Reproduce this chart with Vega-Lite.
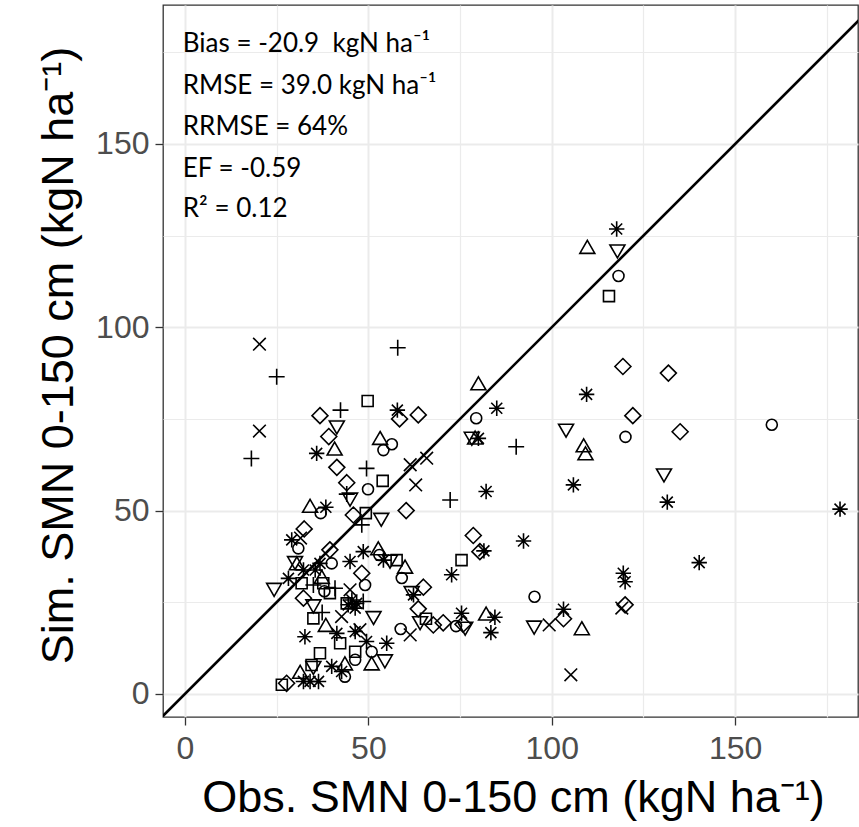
{
  "$schema": "https://vega.github.io/schema/vega-lite/v6.json",
  "width": 695,
  "height": 712,
  "autosize": {"type": "none"},
  "padding": {"left": 163, "top": 5, "right": 1, "bottom": 110},
  "background": "white",
  "config": {
    "view": {"stroke": "#333333", "strokeWidth": 1.3},
    "axis": {
      "domain": false,
      "grid": true,
      "gridColor": "#EBEBEB",
      "labelExpr": "datum.value % 50 === 0 ? datum.label : ''",
      "gridWidth": {"condition": {"test": "datum.value % 50 === 0", "value": 2}, "value": 1.2},
      "tickOpacity": {"condition": {"test": "datum.value % 50 === 0", "value": 1}, "value": 0},
      "tickColor": "#333333",
      "tickWidth": 1.3,
      "tickSize": 8,
      "labelFont": "Liberation Sans",
      "labelFontSize": 32,
      "labelColor": "#4D4D4D",
      "labelOverlap": false,
      "labelFlush": false,
      "titleFont": "Liberation Sans",
      "titleFontSize": 45,
      "titleFontWeight": "normal",
      "titleColor": "black",
      "titleBaseline": "alphabetic",
      "titleAlign": "center"
    }
  },
  "datasets": {
    "points": [
      {"x": 118.2, "y": 114.0, "s": "circle"},
      {"x": 120.1, "y": 70.1, "s": "circle"},
      {"x": 160.0, "y": 73.4, "s": "circle"},
      {"x": 79.4, "y": 75.2, "s": "circle"},
      {"x": 56.4, "y": 68.1, "s": "circle"},
      {"x": 54.1, "y": 66.5, "s": "circle"},
      {"x": 49.9, "y": 55.8, "s": "circle"},
      {"x": 37.0, "y": 49.3, "s": "circle"},
      {"x": 30.9, "y": 39.7, "s": "circle"},
      {"x": 53.0, "y": 37.9, "s": "circle"},
      {"x": 40.0, "y": 35.6, "s": "circle"},
      {"x": 59.1, "y": 31.6, "s": "circle"},
      {"x": 49.1, "y": 29.7, "s": "circle"},
      {"x": 38.0, "y": 28.0, "s": "circle"},
      {"x": 95.3, "y": 26.5, "s": "circle"},
      {"x": 73.9, "y": 18.5, "s": "circle"},
      {"x": 58.8, "y": 17.7, "s": "circle"},
      {"x": 50.9, "y": 11.5, "s": "circle"},
      {"x": 46.4, "y": 9.3, "s": "circle"},
      {"x": 43.6, "y": 4.7, "s": "circle"},

      {"x": 109.7, "y": 121.5, "s": "triangle"},
      {"x": 80.0, "y": 84.3, "s": "triangle"},
      {"x": 79.1, "y": 69.5, "s": "triangle"},
      {"x": 108.7, "y": 67.4, "s": "triangle"},
      {"x": 109.2, "y": 65.2, "s": "triangle"},
      {"x": 53.2, "y": 69.4, "s": "triangle"},
      {"x": 40.8, "y": 66.5, "s": "triangle"},
      {"x": 34.1, "y": 50.9, "s": "triangle"},
      {"x": 52.7, "y": 39.3, "s": "triangle"},
      {"x": 30.5, "y": 35.2, "s": "triangle"},
      {"x": 37.3, "y": 31.5, "s": "triangle"},
      {"x": 60.0, "y": 34.3, "s": "triangle"},
      {"x": 82.1, "y": 21.5, "s": "triangle"},
      {"x": 108.2, "y": 17.5, "s": "triangle"},
      {"x": 38.4, "y": 18.4, "s": "triangle"},
      {"x": 50.9, "y": 7.9, "s": "triangle"},
      {"x": 43.6, "y": 7.9, "s": "triangle"},
      {"x": 31.4, "y": 5.6, "s": "triangle"},

      {"x": 117.9, "y": 121.1, "s": "tridown"},
      {"x": 78.2, "y": 70.0, "s": "tridown"},
      {"x": 103.9, "y": 72.2, "s": "tridown"},
      {"x": 130.6, "y": 60.0, "s": "tridown"},
      {"x": 41.4, "y": 73.1, "s": "tridown"},
      {"x": 45.0, "y": 53.4, "s": "tridown"},
      {"x": 53.5, "y": 47.9, "s": "tridown"},
      {"x": 30.0, "y": 36.1, "s": "tridown"},
      {"x": 55.9, "y": 36.5, "s": "tridown"},
      {"x": 24.3, "y": 28.8, "s": "tridown"},
      {"x": 61.8, "y": 27.9, "s": "tridown"},
      {"x": 35.0, "y": 24.3, "s": "tridown"},
      {"x": 51.4, "y": 21.1, "s": "tridown"},
      {"x": 64.1, "y": 19.7, "s": "tridown"},
      {"x": 95.2, "y": 18.5, "s": "tridown"},
      {"x": 76.4, "y": 18.2, "s": "tridown"},
      {"x": 35.0, "y": 7.5, "s": "tridown"},
      {"x": 54.5, "y": 9.3, "s": "tridown"},

      {"x": 115.6, "y": 108.5, "s": "square"},
      {"x": 49.8, "y": 79.9, "s": "square"},
      {"x": 53.9, "y": 58.1, "s": "square"},
      {"x": 49.3, "y": 49.3, "s": "square"},
      {"x": 57.7, "y": 36.5, "s": "square"},
      {"x": 75.4, "y": 36.5, "s": "square"},
      {"x": 31.8, "y": 30.2, "s": "square"},
      {"x": 37.7, "y": 30.2, "s": "square"},
      {"x": 39.5, "y": 27.5, "s": "square"},
      {"x": 44.1, "y": 24.7, "s": "square"},
      {"x": 65.7, "y": 20.5, "s": "square"},
      {"x": 35.0, "y": 20.6, "s": "square"},
      {"x": 42.3, "y": 13.8, "s": "square"},
      {"x": 46.4, "y": 11.5, "s": "square"},
      {"x": 36.8, "y": 11.1, "s": "square"},
      {"x": 34.5, "y": 7.9, "s": "square"},
      {"x": 26.4, "y": 2.5, "s": "square"},

      {"x": 119.4, "y": 89.3, "s": "diamond"},
      {"x": 131.8, "y": 87.5, "s": "diamond"},
      {"x": 122.1, "y": 75.9, "s": "diamond"},
      {"x": 135.0, "y": 71.5, "s": "diamond"},
      {"x": 63.6, "y": 76.1, "s": "diamond"},
      {"x": 58.5, "y": 75.0, "s": "diamond"},
      {"x": 36.8, "y": 75.9, "s": "diamond"},
      {"x": 39.2, "y": 70.2, "s": "diamond"},
      {"x": 41.4, "y": 61.8, "s": "diamond"},
      {"x": 44.1, "y": 57.6, "s": "diamond"},
      {"x": 45.9, "y": 48.8, "s": "diamond"},
      {"x": 60.3, "y": 50.0, "s": "diamond"},
      {"x": 32.5, "y": 45.0, "s": "diamond"},
      {"x": 39.5, "y": 39.3, "s": "diamond"},
      {"x": 48.2, "y": 32.9, "s": "diamond"},
      {"x": 78.6, "y": 43.2, "s": "diamond"},
      {"x": 80.4, "y": 38.8, "s": "diamond"},
      {"x": 65.0, "y": 29.1, "s": "diamond"},
      {"x": 63.6, "y": 23.2, "s": "diamond"},
      {"x": 32.3, "y": 26.1, "s": "diamond"},
      {"x": 103.2, "y": 20.5, "s": "diamond"},
      {"x": 120.0, "y": 24.3, "s": "diamond"},
      {"x": 67.7, "y": 18.8, "s": "diamond"},
      {"x": 70.4, "y": 19.4, "s": "diamond"},
      {"x": 75.8, "y": 19.0, "s": "diamond"},
      {"x": 27.7, "y": 2.9, "s": "diamond"},

      {"x": 25.0, "y": 86.5, "s": "plus"},
      {"x": 58.0, "y": 94.4, "s": "plus"},
      {"x": 18.1, "y": 64.2, "s": "plus"},
      {"x": 42.4, "y": 77.4, "s": "plus"},
      {"x": 49.5, "y": 61.5, "s": "plus"},
      {"x": 44.1, "y": 54.5, "s": "plus"},
      {"x": 72.3, "y": 52.9, "s": "plus"},
      {"x": 90.3, "y": 67.4, "s": "plus"},
      {"x": 48.2, "y": 46.1, "s": "plus"},
      {"x": 35.0, "y": 29.7, "s": "plus"},
      {"x": 40.9, "y": 28.8, "s": "plus"},
      {"x": 48.6, "y": 25.2, "s": "plus"},
      {"x": 37.4, "y": 22.2, "s": "plus"},

      {"x": 20.3, "y": 95.4, "s": "cross"},
      {"x": 20.3, "y": 71.7, "s": "cross"},
      {"x": 65.9, "y": 64.3, "s": "cross"},
      {"x": 61.4, "y": 62.5, "s": "cross"},
      {"x": 62.9, "y": 57.0, "s": "cross"},
      {"x": 45.0, "y": 28.4, "s": "cross"},
      {"x": 42.7, "y": 21.1, "s": "cross"},
      {"x": 47.7, "y": 17.5, "s": "cross"},
      {"x": 61.4, "y": 16.1, "s": "cross"},
      {"x": 99.3, "y": 18.8, "s": "cross"},
      {"x": 105.2, "y": 5.2, "s": "cross"},
      {"x": 119.1, "y": 23.4, "s": "cross"},
      {"x": 31.5, "y": 42.5, "s": "cross"},

      {"x": 117.7, "y": 126.8, "s": "asterisk"},
      {"x": 57.9, "y": 77.4, "s": "asterisk"},
      {"x": 85.0, "y": 77.9, "s": "asterisk"},
      {"x": 80.0, "y": 69.7, "s": "asterisk"},
      {"x": 109.5, "y": 81.7, "s": "asterisk"},
      {"x": 35.9, "y": 65.6, "s": "asterisk"},
      {"x": 38.4, "y": 50.9, "s": "asterisk"},
      {"x": 82.1, "y": 55.2, "s": "asterisk"},
      {"x": 105.9, "y": 57.0, "s": "asterisk"},
      {"x": 131.5, "y": 52.3, "s": "asterisk"},
      {"x": 178.6, "y": 50.4, "s": "asterisk"},
      {"x": 140.2, "y": 35.8, "s": "asterisk"},
      {"x": 119.5, "y": 32.9, "s": "asterisk"},
      {"x": 120.0, "y": 30.6, "s": "asterisk"},
      {"x": 92.3, "y": 41.7, "s": "asterisk"},
      {"x": 81.5, "y": 39.0, "s": "asterisk"},
      {"x": 72.7, "y": 32.5, "s": "asterisk"},
      {"x": 62.3, "y": 27.0, "s": "asterisk"},
      {"x": 103.2, "y": 23.1, "s": "asterisk"},
      {"x": 75.4, "y": 22.0, "s": "asterisk"},
      {"x": 84.5, "y": 20.9, "s": "asterisk"},
      {"x": 83.4, "y": 16.7, "s": "asterisk"},
      {"x": 29.1, "y": 42.0, "s": "asterisk"},
      {"x": 48.6, "y": 38.8, "s": "asterisk"},
      {"x": 45.0, "y": 36.1, "s": "asterisk"},
      {"x": 54.1, "y": 36.5, "s": "asterisk"},
      {"x": 36.8, "y": 35.6, "s": "asterisk"},
      {"x": 28.2, "y": 31.5, "s": "asterisk"},
      {"x": 32.3, "y": 33.8, "s": "asterisk"},
      {"x": 35.5, "y": 33.8, "s": "asterisk"},
      {"x": 45.5, "y": 25.6, "s": "asterisk"},
      {"x": 46.8, "y": 24.7, "s": "asterisk"},
      {"x": 46.4, "y": 23.4, "s": "asterisk"},
      {"x": 44.5, "y": 24.3, "s": "asterisk"},
      {"x": 32.7, "y": 15.6, "s": "asterisk"},
      {"x": 41.4, "y": 16.5, "s": "asterisk"},
      {"x": 46.4, "y": 17.0, "s": "asterisk"},
      {"x": 49.5, "y": 14.3, "s": "asterisk"},
      {"x": 55.0, "y": 13.8, "s": "asterisk"},
      {"x": 40.0, "y": 7.5, "s": "asterisk"},
      {"x": 42.7, "y": 6.1, "s": "asterisk"},
      {"x": 32.3, "y": 3.4, "s": "asterisk"},
      {"x": 34.1, "y": 3.4, "s": "asterisk"},
      {"x": 36.4, "y": 3.4, "s": "asterisk"}
    ],
    "oneToOne": [
      {"x": -20, "y": -20},
      {"x": 200, "y": 200}
    ],
    "stats": [
      {"x": -0.6, "y": 175.0, "label": "Bias = -20.9 \u00a0kgN ha⁻¹"},
      {"x": -0.6, "y": 163.6, "label": "RMSE = 39.0 kgN ha⁻¹"},
      {"x": -0.6, "y": 152.4, "label": "RRMSE = 64%"},
      {"x": -0.6, "y": 141.1, "label": "EF = -0.59"},
      {"x": -0.6, "y": 130.2, "label": "R² = 0.12"}
    ]
  },
  "layer": [
    {
      "data": {"name": "points"},
      "mark": {"type": "point", "filled": false, "size": 121, "strokeWidth": 1.6, "color": "black", "opacity": 1},
      "encoding": {
        "x": {
          "field": "x", "type": "quantitative",
          "scale": {"domain": [-6.0, 183.5], "nice": false, "zero": false},
          "axis": {"title": "Obs. SMN 0-150 cm (kgN ha⁻¹)", "values": [0, 25, 50, 75, 100, 125, 150, 175], "labelPadding": 8, "titleX": 350, "titleY": 94}
        },
        "y": {
          "field": "y", "type": "quantitative",
          "scale": {"domain": [-6.3, 187.9], "nice": false, "zero": false},
          "axis": {"title": "Sim. SMN 0-150 cm (kgN ha⁻¹)", "values": [0, 25, 50, 75, 100, 125, 150, 175], "labelPadding": 6, "titleX": -91, "titleY": 350, "titleAngle": 270}
        },
        "shape": {
          "field": "s", "type": "nominal", "legend": null,
          "scale": {
            "domain": ["circle", "triangle", "tridown", "square", "diamond", "plus", "cross", "asterisk"],
            "range": [
              "circle",
              "M0,-1.45L1.36,0.9L-1.36,0.9Z",
              "M0,1.45L1.36,-0.9L-1.36,-0.9Z",
              "M-1,-1L1,-1L1,1L-1,1Z",
              "M0,-1.45L1.45,0L0,1.45L-1.45,0Z",
              "M-1.45,0L1.45,0M0,-1.45L0,1.45",
              "M-1.15,-1.15L1.15,1.15M-1.15,1.15L1.15,-1.15",
              "M-1.4,0L1.4,0M0,-1.4L0,1.4M-1,-1L1,1M-1,1L1,-1"
            ]
          }
        }
      }
    },
    {
      "data": {"name": "oneToOne"},
      "mark": {"type": "line", "clip": true, "color": "black", "strokeWidth": 2.6},
      "encoding": {
        "x": {"field": "x", "type": "quantitative"},
        "y": {"field": "y", "type": "quantitative"}
      }
    },
    {
      "data": {"name": "stats"},
      "mark": {"type": "text", "align": "left", "baseline": "alphabetic", "font": "Lato", "fontSize": 26, "color": "black"},
      "encoding": {
        "x": {"field": "x", "type": "quantitative"},
        "y": {"field": "y", "type": "quantitative"},
        "text": {"field": "label", "type": "nominal"}
      }
    }
  ]
}
